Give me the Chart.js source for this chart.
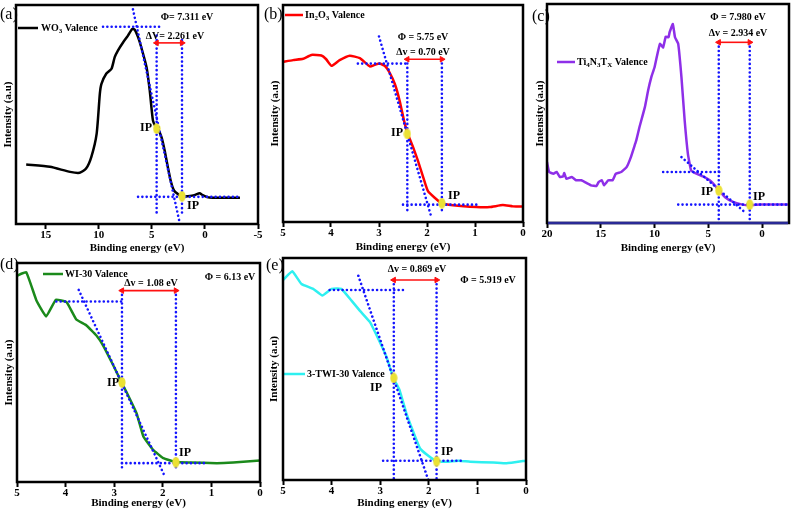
<!DOCTYPE html>
<html><head><meta charset="utf-8">
<script src="https://cdn.jsdelivr.net/npm/chart.js@4.4.1/dist/chart.umd.min.js"></script>
<style>
html,body{margin:0;padding:0;background:#fff;width:792px;height:511px;overflow:hidden;position:relative}
canvas{position:absolute}
</style></head><body>
<canvas id="pa"></canvas><canvas id="pb"></canvas><canvas id="pc"></canvas><canvas id="pd"></canvas><canvas id="pe"></canvas>
<script>
// ---------- DATA ----------
// (a) WO3
const wo3Energy = [16.84,14.6,12.7,11.8,11.2,10.7,10.2,9.9,9.75,9.3,8.8,8.5,8.2,7.7,7.25,6.84,6.6,6.3,6.0,5.5,5.2,4.9,4.66,4.44,4.1,3.8,3.5,3.2,2.9,2.4,2.1,1.6,1.0,0.5,0.2,-0.4,-2.0,-3.3];
const wo3Intensity = [27.2,26.1,23.8,23.4,25.3,30.7,41.3,59.5,64,68.6,70.9,76.2,79.2,83,86,89.1,88.6,85.3,80.7,71.6,61,47.3,44.6,43.6,39.8,33.7,26.1,19.3,15.2,13.2,12.4,12.7,13.2,14,13.2,12.1,12,12];
const wo3Ticks = [15,10,5,0,-5];
const wo3Guides = [[9.6,90.1,4.3,90.1],[4.55,86,4.55,4.9],[2.16,84,2.16,4.9],[6.3,12.4,-3.2,12.4],[6.78,98,2.4,1]];
const wo3IP = [[4.55,43.6],[2.16,12.7]];
const wo3Arrow = [4.55,2.16,82.7];

// (b) In2O3
const in2o3Energy = [5.0,4.79,4.58,4.41,4.2,4.1,3.99,3.82,3.61,3.4,3.19,3.09,2.99,2.88,2.78,2.67,2.57,2.47,2.4,2.29,2.19,2.08,1.98,1.84,1.70,1.46,0.97,0.69,0.42,0.21,0];
const in2o3Intensity = [73.8,74.6,75.2,77.0,76.7,75.0,72.0,74.6,76.6,75.5,71.7,72.4,73.0,72.0,68.9,63.6,55.9,45.9,40.6,34.5,28.3,20.7,14.2,11.2,8.7,7.7,6.9,6.9,7.8,7.2,7.2];
const in2o3Ticks = [5,4,3,2,1,0];
const in2o3Guides = [[3.44,73,2.41,73],[2.41,75,2.41,4.6],[1.69,75,1.69,4.6],[2.5,8,0.94,8],[3.0,85.5,1.91,2.3]];
const in2o3IP = [[2.41,40.6],[1.69,8.7]];
const in2o3Arrow = [2.41,1.69,75];

// (c) Ti4N3Tx
const tiEnergy = [20,19.8,19.4,19.1,18.8,18.5,18.4,18.2,17.7,17.3,16.8,16.3,15.9,15.4,15.2,14.9,14.7,14.3,13.9,13.6,13.1,12.6,12.2,11.8,11.7,11.4,10.9,10.6,10.3,10.0,9.8,9.5,9.2,8.96,8.7,8.6,8.3,8.1,7.8,7.5,7.2,6.9,6.6,6.1,5.5,4.87,4.4,4.0,3.47,2.7,1.92,1.15,0.2,-1.0,-2.4];
const tiIntensity = [27.8,23.3,22.5,23.3,21,21.3,22.8,20.2,21,19.5,19.5,18.2,17.2,16.9,18.7,19.5,17.2,19.5,19.5,22.5,23.3,25.5,30.1,36.2,37.7,43.8,52.9,60.5,66.6,71.1,75.7,81.8,80.2,85.1,84.8,87.1,90.9,84.8,81.8,66.6,46.8,31.6,24,22.5,21.3,19.5,17.2,14.9,11.9,9.6,8.5,8.1,8.5,8.4,8.4];
const tiTicks = [20,15,10,5,0];
const tiGuides = [[9.2,23.3,3.9,23.3],[4.03,82.5,4.03,0],[1.15,82.5,1.15,0],[7.8,8.4,-2.5,8.4],[7.5,30.1,1.46,4.3]];
const tiIP = [[4.03,14.9],[1.15,8.4]];
const tiArrow = [4.03,1.15,82.5];

// (d) WI-30
const wiEnergy = [5.0,4.81,4.6,4.4,4.2,3.98,3.78,3.57,3.37,3.23,3.02,2.85,2.75,2.54,2.4,2.2,1.99,1.73,1.44,0.89,0.55,0];
const wiIntensity = [94.2,95.8,82.9,75.6,83.2,82.1,74.2,71.5,67,62.4,53.3,45.5,41.2,31.4,20.8,14.7,10.9,9.1,8.9,8.6,8.9,9.8];
const wiTicks = [5,4,3,2,1,0];
const wiGuides = [[4.19,82.4,2.82,82.4],[2.84,87.4,2.84,4.8],[1.73,87.4,1.73,4.8],[2.84,8.6,1.1,8.6],[3.73,87.7,1.96,2.6]];
const wiIP = [[2.84,45.5],[1.73,9.1]];
const wiArrow = [2.84,1.73,87.4];

// (e) 3-TWI-30
const twiEnergy = [5.0,4.81,4.62,4.38,4.19,4.0,3.8,3.59,3.42,3.21,3.04,2.87,2.73,2.6,2.46,2.32,2.18,2.01,1.84,1.63,1.39,1.15,0.67,0.4,0];
const twiIntensity = [90.1,94,88.3,86.1,83.1,86.1,86.1,80.8,76.3,71.1,63.6,55.4,46,40.4,29.9,21.7,14.2,10.9,8.5,8.2,8.7,8.2,7.9,7.5,8.7];
const twiTicks = [5,4,3,2,1,0];
const twiGuides = [[4.04,85.6,2.53,85.6],[2.72,90.1,2.72,0],[1.84,90.1,1.84,0],[2.94,8.7,1.33,8.7],[3.45,92,2.01,0]];
const twiIP = [[2.72,46],[1.84,8.5]];
const twiArrow = [2.72,1.84,90.1];

// ---------- LAYOUT / STYLE ----------
const FONT = "'Liberation Serif','Times New Roman',serif";
const BLUE = '#1414ff';
const panels = [
  {id:'pa', L:16, T:4, R:258, B:224, xAxisH:31, yTitleX:8, xmin:-5, xmax:17.8,
   energy:wo3Energy, inten:wo3Intensity, ticks:wo3Ticks, guides:wo3Guides, ip:wo3IP, arrow:wo3Arrow,
   color:'#000000', tension:0.2, letter:['(a)',0,15],
   legend:{x1:18,x2:38,y:28,tx:41,text:'WO_3 Valence'},
   texts:[['\u03A6= 7.311 eV',187,17,10],['\u0394V= 2.261 eV',175,36,10],['IP',146,128,12],['IP',193,206,12]]},
  {id:'pb', L:283, T:4, R:523, B:222, xAxisH:32, yTitleX:275, xmin:0, xmax:5,
   energy:in2o3Energy, inten:in2o3Intensity, ticks:in2o3Ticks, guides:in2o3Guides, ip:in2o3IP, arrow:in2o3Arrow,
   color:'#ff0000', tension:0.15, letter:['(b)',264,15],
   legend:{x1:285,x2:303,y:15,tx:305,text:'In_2O_3 Valence'},
   texts:[['\u03A6 = 5.75 eV',423,37,10],['\u0394v = 0.70 eV',423,52,10],['IP',397,133,12],['IP',454,196,12]]},
  {id:'pc', L:547, T:3, R:789, B:223, xAxisH:32, yTitleX:540, xmin:-2.5, xmax:20,
   energy:tiEnergy, inten:tiIntensity, ticks:tiTicks, guides:tiGuides, ip:tiIP, arrow:tiArrow,
   color:'#8e2fe8', tension:0.1, letter:['(c)',532,17], bottomColor:'#2a2a96',
   legend:{x1:557,x2:575,y:62,tx:577,text:'Ti_4N_3T_X Valence'},
   texts:[['\u03A6 = 7.980 eV',738,17,10],['\u0394v = 2.934 eV',738,33,10],['IP',707,192,12],['IP',759,197,12]]},
  {id:'pd', L:17, T:262, R:260, B:482, xAxisH:28, yTitleX:9, xmin:0, xmax:5,
   energy:wiEnergy, inten:wiIntensity, ticks:wiTicks, guides:wiGuides, ip:wiIP, arrow:wiArrow,
   color:'#1b8a1b', tension:0.1, letter:['(d)',0,265],
   legend:{x1:43,x2:63,y:274,tx:65,text:'WI-30 Valence'},
   texts:[['\u0394v = 1.08 eV',151,283,10],['\u03A6 = 6.13 eV',230,277,10],['IP',113,383,12],['IP',185,453,12]]},
  {id:'pe', L:283, T:257, R:526, B:480, xAxisH:30, yTitleX:274, xmin:0, xmax:5,
   energy:twiEnergy, inten:twiIntensity, ticks:twiTicks, guides:twiGuides, ip:twiIP, arrow:twiArrow,
   color:'#2ef0f0', tension:0.1, letter:['(e)',266,266],
   legend:{x1:284,x2:305,y:374,tx:307,text:'3-TWI-30 Valence'},
   texts:[['\u0394v = 0.869 eV',417,269,10],['\u03A6 = 5.919 eV',488,280,10],['IP',376,388,12],['IP',447,452,12]]}
];

function ipImage(){
  const c=document.createElement('canvas'); c.width=8; c.height=11;
  const g=c.getContext('2d'); g.fillStyle='#ebe134';
  g.beginPath(); g.ellipse(4,5.5,3.6,5.2,0,0,Math.PI*2); g.fill(); return c;
}
const IPIMG = ipImage();

function drawRich(ctx, text, x, y, size, align){
  const segs=[]; let i=0;
  while(i<text.length){
    if(text[i]==='_'){ segs.push({t:text[i+1],sub:true}); i+=2; }
    else { let j=i; while(j<text.length && text[j]!=='_') j++; segs.push({t:text.slice(i,j),sub:false}); i=j; }
  }
  const fMain=`bold ${size}px ${FONT}`, fSub=`bold ${Math.round(size*0.72)}px ${FONT}`;
  let w=0; segs.forEach(s=>{ctx.font=s.sub?fSub:fMain; s.w=ctx.measureText(s.t).width; w+=s.w;});
  let cx = align==='center' ? x-w/2 : x;
  ctx.textBaseline='middle'; ctx.textAlign='left'; ctx.fillStyle='#000';
  segs.forEach(s=>{ctx.font=s.sub?fSub:fMain; ctx.fillText(s.t,cx,s.sub?y+size*0.3:y); cx+=s.w;});
}

panels.forEach(p=>{
  const cv=document.getElementById(p.id);
  const left=p.L-22, top=p.T-4;
  const W=(p.R-p.L)+22+8, H=4+(p.B-p.T)+p.xAxisH;
  cv.width=W; cv.height=H; cv.style.left=left+'px'; cv.style.top=top+'px';
  cv.style.width=W+'px'; cv.style.height=H+'px';

  const datasets=[];
  datasets.push({data:p.ip.map(a=>({x:a[0],y:a[1]})), showLine:false, pointStyle:IPIMG, pointRadius:4, pointHoverRadius:4});
  datasets.push({data:[{x:p.arrow[0],y:p.arrow[2]},{x:p.arrow[1],y:p.arrow[2]}], borderColor:'#ff1010', borderWidth:1.6,
    pointStyle:'triangle', pointRadius:3.2, pointRotation:[-90,90], pointBackgroundColor:'#ff1010', pointBorderColor:'#ff1010', pointBorderWidth:1});
  p.guides.forEach(g=>datasets.push({data:[{x:g[0],y:g[1]},{x:g[2],y:g[3]}], borderColor:BLUE, borderWidth:2.6,
    borderDash:[0.01,4.3], borderCapStyle:'round', pointRadius:0}));
  datasets.push({data:p.energy.map((e,i)=>({x:e,y:p.inten[i]})), borderColor:p.color, borderWidth:2.5, pointRadius:0, tension:p.tension, cubicInterpolationMode:'default'});

  const overlay={id:'overlay_'+p.id, afterDraw(chart){
    const ctx=chart.ctx, ca=chart.chartArea;
    ctx.save();
    ctx.translate(-left,-top);
    // panel letter
    ctx.font=`16px ${FONT}`; ctx.fillStyle='#000'; ctx.textAlign='left'; ctx.textBaseline='middle';
    ctx.fillText(p.letter[0],p.letter[1],p.letter[2]);
    // legend
    const lg=p.legend;
    ctx.strokeStyle=p.color; ctx.lineWidth=2.5; ctx.beginPath(); ctx.moveTo(lg.x1,lg.y); ctx.lineTo(lg.x2,lg.y); ctx.stroke();
    drawRich(ctx,lg.text,lg.tx,lg.y,10,'left');
    p.texts.forEach(t=>drawRich(ctx,t[0],t[1],t[2],t[3],'center'));
    ctx.restore();
    // frame
    ctx.save();
    ctx.strokeStyle='#000'; ctx.lineWidth=2.5;
    ctx.strokeRect(ca.left,ca.top,ca.right-ca.left,ca.bottom-ca.top);
    if(p.bottomColor){ ctx.strokeStyle=p.bottomColor; ctx.beginPath(); ctx.moveTo(ca.left+1,ca.bottom); ctx.lineTo(ca.right-1,ca.bottom); ctx.stroke(); }
    ctx.restore();
  }};

  new Chart(cv,{
    type:'line',
    data:{datasets},
    options:{
      responsive:false, animation:false, events:[],
      layout:{padding:{left:0,top:4,right:8,bottom:0}},
      plugins:{legend:{display:false}, tooltip:{enabled:false}},
      scales:{
        x:{type:'linear', reverse:true, min:p.xmin, max:p.xmax,
          afterBuildTicks:(s)=>{s.ticks=p.ticks.map(v=>({value:v}));},
          afterFit:(s)=>{s.height=p.xAxisH;},
          grid:{display:true, drawOnChartArea:false, drawTicks:true, tickLength:5, tickWidth:2, tickColor:'#000'},
          border:{display:false},
          ticks:{color:'#000', padding:0, maxRotation:0, font:{family:FONT, size:11, weight:'bold'}},
          title:{display:true, text:'Binding energy (eV)', color:'#000', padding:{top:0,bottom:0}, font:{family:FONT, size:11, weight:'bold'}}
        },
        y:{type:'linear', min:0, max:100,
          afterFit:(s)=>{s.width=22;},
          grid:{display:false}, border:{display:false}, ticks:{display:false},
          title:{display:true, text:'Intensity (a.u)', color:'#000', padding:{top:p.yTitleX-left-6.6,bottom:0}, font:{family:FONT, size:11, weight:'bold'}}
        }
      }
    },
    plugins:[overlay]
  });
});
</script>
</body></html>
